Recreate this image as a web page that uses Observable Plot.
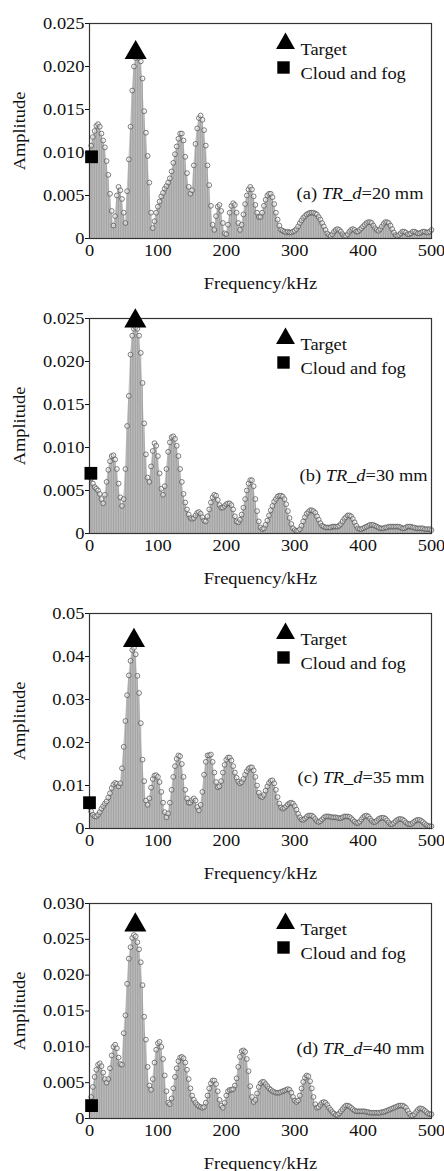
<!DOCTYPE html>
<html><head><meta charset="utf-8">
<script src="https://cdn.jsdelivr.net/npm/d3@7"></script>
<script src="https://cdn.jsdelivr.net/npm/@observablehq/plot@0.6"></script>
<style>
html,body{margin:0;padding:0;background:#fff;overflow:hidden;}
#charts svg{display:block;}
</style></head><body><div id="charts"></div>
<script>
// Frequency grid (kHz), 2.5 kHz spacing, 0..500
const freqs = d3.range(0, 201).map(k => k * 2.5);

// Amplitudes in units of 1e-3, one value per frequency sample
const ampA = [
 9.8,10.8,11.8,12.5,13.1,13.3,13.0,12.2,11.4,10.6,
 9.0,7.4,5.2,3.2,1.5,2.6,5.0,6.0,5.6,4.6,
 3.0,1.8,5.5,9.2,13.0,17.2,20.0,21.0,21.2,21.0,
 20.6,18.6,14.8,12.3,9.6,6.5,3.0,1.2,2.0,3.0,
 3.7,4.3,4.9,5.3,5.8,6.1,6.5,7.0,7.8,8.8,
 9.8,10.7,11.6,12.2,12.2,11.4,9.5,7.6,6.0,5.2,
 5.6,8.5,11.0,12.8,14.0,14.3,13.8,12.6,10.8,8.5,
 6.2,3.8,1.6,1.0,2.6,3.7,3.9,3.2,1.8,0.6,
 0.5,1.6,3.0,3.8,4.1,3.9,3.0,1.8,1.0,1.6,
 2.8,4.0,5.0,5.7,6.0,5.7,4.9,3.9,3.0,2.5,
 2.5,3.0,3.8,4.5,5.0,5.2,5.2,4.8,4.0,3.0,
 2.2,1.5,1.0,0.9,0.8,0.7,0.8,0.7,0.7,0.8,
 0.9,1.1,1.4,1.8,2.1,2.4,2.6,2.8,2.9,3.0,
 3.0,3.0,2.9,2.8,2.5,2.2,1.8,1.4,1.0,0.6,
 0.4,0.3,0.5,0.8,1.0,1.1,1.0,0.8,0.5,0.3,
 0.3,0.5,0.8,1.0,1.1,1.0,0.8,0.8,1.0,1.2,
 1.4,1.6,1.8,1.9,1.9,1.8,1.5,1.2,1.0,0.9,
 1.1,1.4,1.7,1.9,1.9,1.8,1.5,1.1,0.7,0.4,
 0.3,0.4,0.6,0.8,0.8,0.7,0.5,0.5,0.6,0.8,
 0.8,0.7,0.6,0.6,0.7,0.8,0.8,0.7,0.7,0.8,
 1.0
];
const ampB = [
 7.0,6.4,5.8,5.4,5.2,5.0,4.6,4.0,3.5,4.5,
 6.0,7.4,8.4,9.0,9.1,8.6,7.5,5.8,4.2,3.2,
 4.0,7.5,12.5,16.0,20.8,23.0,23.8,24.0,23.8,23.0,
 21.0,17.5,12.8,9.2,6.5,6.0,7.8,9.6,10.5,10.2,
 9.0,7.0,5.2,4.5,5.5,7.5,9.5,10.6,11.2,11.3,
 11.0,10.2,9.0,7.5,6.0,4.6,3.6,2.8,2.2,1.8,
 1.7,1.8,2.1,2.4,2.5,2.3,1.9,1.5,1.4,2.0,
 2.8,3.6,4.2,4.5,4.4,3.9,3.3,3.0,3.0,3.2,
 3.4,3.5,3.5,3.3,2.8,2.0,1.4,1.3,1.6,2.2,
 3.0,4.0,5.0,5.8,6.2,6.2,5.5,4.0,2.6,1.4,
 0.7,0.5,0.6,1.0,1.5,2.1,2.7,3.2,3.7,4.0,
 4.3,4.4,4.4,4.3,4.0,3.4,2.6,1.8,1.1,0.6,
 0.4,0.3,0.3,0.5,0.9,1.4,1.9,2.3,2.5,2.7,
 2.7,2.6,2.4,2.0,1.6,1.2,0.9,0.8,0.7,0.7,
 0.7,0.7,0.8,0.8,0.8,0.8,0.9,1.1,1.4,1.7,
 1.9,2.1,2.1,2.0,1.7,1.3,0.9,0.6,0.5,0.5,
 0.6,0.7,0.8,0.9,1.0,1.0,1.0,0.9,0.8,0.7,
 0.6,0.6,0.6,0.7,0.7,0.8,0.8,0.8,0.8,0.8,
 0.8,0.8,0.7,0.6,0.6,0.7,0.8,0.8,0.8,0.7,
 0.7,0.6,0.6,0.6,0.6,0.6,0.5,0.5,0.5,0.5,
 0.4
];
const ampC = [
 5.0,4.0,3.2,2.8,2.8,3.2,3.8,4.6,5.2,5.8,
 6.3,7.2,8.2,9.4,10.2,10.6,10.4,9.8,10.5,14.0,
 19.0,25.0,31.0,35.6,39.0,41.5,42.0,40.5,35.5,31.5,
 24.5,16.0,11.0,6.5,5.5,7.0,9.5,11.5,12.3,12.4,
 12.0,10.8,8.5,6.0,3.8,2.6,3.5,6.0,9.0,12.0,
 14.5,16.2,17.0,16.8,15.0,12.0,9.0,7.0,6.0,6.0,
 6.6,7.0,6.5,5.0,4.2,5.5,8.5,12.5,15.5,17.0,
 17.0,17.2,15.5,13.0,10.8,9.6,9.8,11.0,13.0,14.8,
 16.0,16.5,16.5,15.8,14.5,13.0,11.8,10.9,10.5,10.8,
 11.5,12.5,13.3,13.9,14.2,14.2,13.5,12.0,10.0,8.3,
 7.5,7.3,7.8,8.8,9.8,10.6,11.1,11.2,10.5,9.0,
 7.3,5.8,4.9,4.6,4.8,5.2,5.6,5.9,6.0,5.8,
 5.2,4.4,3.4,2.6,2.1,2.0,2.3,2.7,3.0,3.0,
 3.0,2.7,2.2,1.7,1.5,1.7,2.1,2.5,2.8,2.8,
 2.8,2.7,2.6,2.6,2.6,2.5,2.4,2.4,2.6,2.8,
 2.8,2.8,2.7,2.4,2.0,1.6,1.3,1.3,1.6,2.1,
 2.6,2.9,3.0,2.8,2.3,1.8,1.5,1.5,1.8,2.2,
 2.4,2.5,2.5,2.3,1.9,1.4,1.0,1.0,1.3,1.7,
 2.0,2.2,2.2,2.1,1.8,1.4,1.1,1.0,1.0,1.3,
 1.6,1.9,2.0,2.0,1.8,1.5,1.1,0.8,0.6,0.5,
 0.5
];
const ampD = [
 2.0,3.0,4.4,5.8,6.8,7.5,7.7,7.3,6.4,5.5,
 5.0,5.5,7.0,8.8,10.0,10.3,9.8,8.5,7.6,7.5,
 11.9,14.4,18.8,22.3,23.9,25.2,25.6,25.4,24.6,23.6,
 21.8,18.6,14.2,11.0,7.2,4.6,4.0,5.5,7.8,9.6,
 10.5,10.7,10.0,8.3,6.0,3.8,2.2,2.0,2.8,4.2,
 5.8,7.0,8.0,8.5,8.6,8.4,7.8,6.8,5.5,4.2,
 3.2,2.6,2.2,1.9,1.7,1.6,1.5,1.6,2.2,3.2,
 4.2,4.9,5.3,5.3,4.8,3.8,2.6,1.8,1.5,2.2,
 3.2,3.8,4.0,4.0,4.1,4.6,5.6,7.2,8.6,9.4,
 9.5,9.3,8.3,6.6,4.5,3.0,2.3,2.6,3.5,4.4,
 4.9,5.1,5.1,4.8,4.5,4.2,4.0,3.8,3.7,3.6,
 3.6,3.6,3.7,3.8,3.9,4.0,4.1,4.0,3.6,3.0,
 2.5,2.3,2.5,3.2,4.2,5.1,5.7,6.0,5.9,5.2,
 4.2,3.0,2.0,1.5,1.6,1.9,2.2,2.3,2.2,1.9,
 1.5,1.2,0.9,0.7,0.5,0.5,0.7,1.0,1.3,1.6,
 1.8,1.8,1.7,1.5,1.3,1.1,1.0,1.0,1.0,1.0,
 1.0,1.0,0.9,0.9,0.8,0.8,0.8,0.8,0.8,0.8,
 0.8,0.9,0.9,1.0,1.1,1.2,1.3,1.4,1.5,1.6,
 1.7,1.8,1.8,1.8,1.7,1.5,1.1,0.7,0.4,0.4,
 0.6,0.9,1.2,1.4,1.4,1.3,1.1,0.9,0.7,0.6,
 0.6
];

// Marker points
const targetFreq = [67.5, 67, 65, 67];
const targetAmp  = [0.0216, 0.0247, 0.0437, 0.0270];
const cloudFreq  = [3, 2, 0, 3];
const cloudAmp   = [0.0095, 0.0070, 0.0060, 0.0018];

// Labels and ticks
const panelTags   = ["(a)", "(b)", "(c)", "(d)"];
const trDistances = [20, 30, 35, 40];
const xTicks = [0, 100, 200, 300, 400, 500];
const yTicksA = [0, 0.005, 0.010, 0.015, 0.020, 0.025];
const yTicksB = [0, 0.005, 0.010, 0.015, 0.020, 0.025];
const yTicksC = [0, 0.01, 0.02, 0.03, 0.04, 0.05];
const yTicksD = [0, 0.005, 0.010, 0.015, 0.020, 0.025, 0.030];
const legendLabels = ["Target", "Cloud and fog"];
const xLabel = "Frequency/kHz";
const yLabel = "Amplitude";

// Layout (pixels)
const ampSeries = [ampA, ampB, ampC, ampD];
const yTicksAll = [yTicksA, yTicksB, yTicksC, yTicksD];
const yMaxes = [0.025, 0.025, 0.05, 0.030];
const decimals = [3, 3, 2, 3];
const svgHeights = [295, 295, 295, 286];
const marginTops = [23, 23, 23, 18];
const plotHeight = 215;
const annoDx = [-8, -4, -7, -7];
const annoDy = [-40, -53, -46, -65];

const FONT = '"Liberation Serif", "Times New Roman", serif';
const container = document.getElementById("charts");

for (let i = 0; i < 4; i++) {
  const amp = ampSeries[i];
  const data = freqs.map((f, k) => ({f, a: amp[k] / 1000}));
  const dec = decimals[i];
  const chart = Plot.plot({
    width: 444,
    height: svgHeights[i],
    marginLeft: 89,
    marginRight: 13,
    marginTop: marginTops[i],
    marginBottom: svgHeights[i] - marginTops[i] - plotHeight,
    style: {fontFamily: FONT, fontSize: "16px", color: "#111", background: "white", overflow: "visible"},
    x: {domain: [0, 500]},
    y: {domain: [0, yMaxes[i]]},
    marks: [
      Plot.areaY(data, {x: "f", y: "a", fill: "#c4c4c4"}),
      Plot.ruleX(data, {x: "f", y1: 0, y2: "a", stroke: "#8a8a8a", strokeWidth: 0.6}),
      Plot.dot(data, {x: "f", y: "a", r: 2.4, stroke: "#5c5c5c", strokeWidth: 0.8, fill: "white", fillOpacity: 0.4}),
      Plot.frame({stroke: "#333", strokeWidth: 1.2}),
      Plot.axisX({ticks: xTicks, tickSize: 0, tickPadding: 6, tickFormat: d => String(d),
        label: xLabel, labelArrow: "none", labelAnchor: "center", labelOffset: 50}),
      Plot.axisY({ticks: yTicksAll[i], tickSize: 4, tickPadding: 1,
        tickFormat: d => d === 0 ? "0" : d.toFixed(dec),
        label: yLabel, labelArrow: "none", labelAnchor: "center", labelOffset: 76}),
      Plot.dot([{f: cloudFreq[i], a: cloudAmp[i]}], {x: "f", y: "a", symbol: "square", r: 7.2, fill: "black"}),
      Plot.dot([{f: targetFreq[i], a: targetAmp[i]}], {x: "f", y: "a", symbol: "triangle", r: 8.2, fill: "black"}),
      // legend
      Plot.dot([0], {frameAnchor: "top-right", dx: -146, dy: 20, symbol: "triangle", r: 7, fill: "black"}),
      Plot.dot([0], {frameAnchor: "top-right", dx: -148, dy: 44, symbol: "square", r: 7, fill: "black"}),
      Plot.text([legendLabels[0]], {text: d => d, frameAnchor: "top-right", dx: -131, dy: 20, textAnchor: "start", fill: "#111"}),
      Plot.text([legendLabels[1]], {text: d => d, frameAnchor: "top-right", dx: -131, dy: 44, textAnchor: "start", fill: "#111"}),
      // panel annotation
      Plot.text([`${panelTags[i]} TR_d=${trDistances[i]} mm`], {text: d => d, frameAnchor: "bottom-right",
        dx: annoDx[i], dy: annoDy[i], textAnchor: "end", fill: "#111"})
    ]
  });
  container.appendChild(chart);

  d3.select(chart).selectAll("text").each(function() {
    const s = this.textContent;
    // remove any axis-label arrows
    if (/[↑→↓←]/.test(s) && this.children.length === 0) {
      this.textContent = s.replace(/[↑→↓←]/g, "").trim();
    }
    // rich text for the annotation (italic TR and d)
    if (s.startsWith(panelTags[i])) {
      const t = d3.select(this);
      t.text(null);
      const parts = [[panelTags[i] + " ", false], ["TR", true], ["_", false], ["d", true], [`=${trDistances[i]} mm`, false]];
      for (const [p, it] of parts) t.append("tspan").attr("font-style", it ? "italic" : "normal").text(p);
    }
  });
}

// The source figure's glyphs are horizontally wider than the font: stretch a little
document.querySelectorAll("#charts svg text").forEach(el => {
  const w = el.getComputedTextLength();
  if (w > 0) {
    el.setAttribute("textLength", (w * 1.15).toFixed(1));
    el.setAttribute("lengthAdjust", "spacingAndGlyphs");
  }
});
</script>
</body></html>
